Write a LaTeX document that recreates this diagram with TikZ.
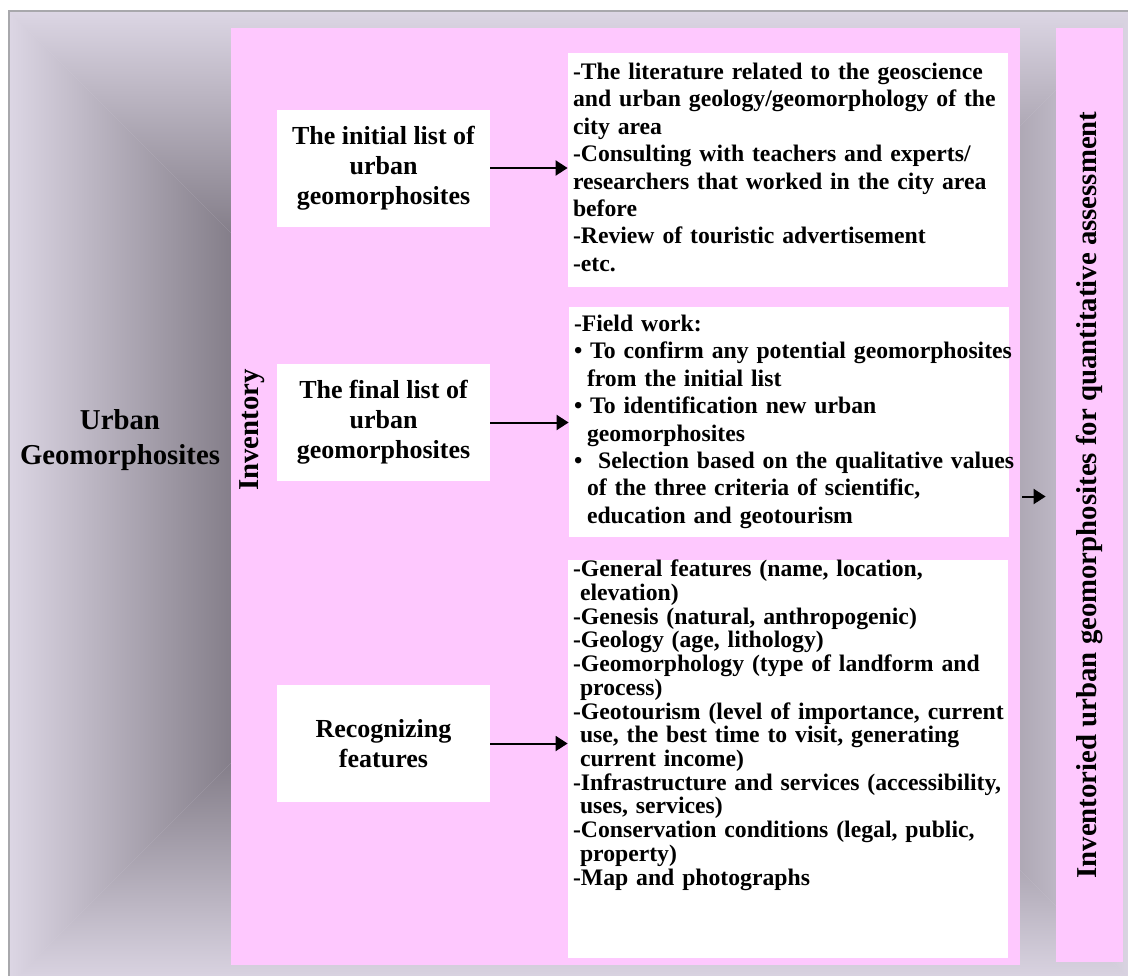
\documentclass[tikz,border=0pt]{standalone}
\usepackage{fontspec}
\setmainfont{Liberation Serif}
\usetikzlibrary{arrows.meta,positioning}

\definecolor{bglight}{RGB}{220,214,228}
\definecolor{bgdark}{RGB}{28,22,30}
\definecolor{panelpink}{RGB}{254,200,254}
\definecolor{framegray}{RGB}{168,168,172}

\begin{document}
\begin{tikzpicture}[x=0.5pt,y=-0.5pt,
    stepbox/.style={fill=white, inner sep=0pt, minimum width=106.5pt, minimum height=58.5pt,
      align=center, font=\fontsize{13}{15}\selectfont\bfseries},
    listbox/.style={fill=white, inner xsep=2.5pt, inner ysep=0pt, text width=215pt, align=left,
      font=\fontsize{11.85}{13.7}\selectfont\bfseries},
    flow/.style={-{Triangle[length=6pt,width=7.5pt]}, line width=1pt},
    biglabel/.style={align=center, font=\fontsize{14.4}{17.5}\selectfont\bfseries}]

  \useasboundingbox (0,0) rectangle (1128,975);
  \clip (0,0) rectangle (1128,975);

  % background frame, shaded from the rim to the middle
  \fill[bglight] (9,11) rectangle (1135,985);
  \shade[left color=bglight, right color=bgdark] (9,11) -- (496,498) -- (9,985) -- cycle;
  \shade[left color=bgdark, right color=bglight] (1135,11) -- (648,498) -- (1135,985) -- cycle;
  \shade[top color=bglight, bottom color=bgdark] (9,11) -- (1135,11) -- (648,498) -- (496,498) -- cycle;
  \shade[top color=bgdark, bottom color=bglight] (9,985) -- (1135,985) -- (648,498) -- (496,498) -- cycle;
  \draw[framegray, line width=1pt] (9,985) -- (9,11) -- (1135,11);

  \node[fill=panelpink, inner sep=0pt, minimum width=394.5pt, minimum height=468.5pt] (panel) at (625.5,496.5) {};
  % rotated: its north anchor is the left side
  \node[fill=panelpink, inner sep=0pt, rotate=90, minimum width=467pt, minimum height=33.5pt,
    font=\fontsize{14.4}{17}\selectfont\bfseries] (result) at (1089.5,495)
    {Inventoried urban geomorphosites for quantitative assessment};

  \node[biglabel] (urban) at (120,440) {Urban\\Geomorphosites};
  \node[biglabel, rotate=90] (inventory) at (252,430) {Inventory};

  \node[stepbox] (initial) at (383.5,168) {The initial list of\\urban\\geomorphosites};
  \node[stepbox] (final) at (383.5,422.5) {The final list of\\urban\\geomorphosites};
  \node[stepbox] (recog) at (383.5,743.5) {Recognizing\\features};

  \node[listbox, minimum height=117pt] (litlist) at (788,170) {%
    \begin{tabular}{@{}l@{}}
      -The literature related to the geoscience\\
      and urban geology/geomorphology of the\\
      city area\\
      -Consulting with teachers and experts/\\
      researchers that worked in the city area\\
      before\\
      -Review of touristic advertisement\\
      -etc.
    \end{tabular}};

  \node[listbox, minimum height=115pt] (fieldlist) at (789,422) {%
    \begin{tabular}{@{}l@{}}
      -Field work:\\
      \textbullet{} To confirm any potential geomorphosites\\
      \hspace*{6.5pt}from the initial list\\
      \textbullet{} To identification new urban\\
      \hspace*{6.5pt}geomorphosites\\
      \textbullet\ \ Selection based on the qualitative values\\
      \hspace*{6.5pt}of the three criteria of scientific,\\
      \hspace*{6.5pt}education and geotourism
    \end{tabular}};

  \node[listbox, minimum height=199pt, font=\fontsize{11.85}{11.85}\selectfont\bfseries] (featlist) at (788,759) {%
    \begin{tabular}{@{}l@{}}
      -General features (name, location,\\
      \hspace*{3.5pt}elevation)\\
      -Genesis (natural, anthropogenic)\\
      -Geology (age, lithology)\\
      -Geomorphology (type of landform and\\
      \hspace*{3.5pt}process)\\
      -Geotourism (level of importance, current\\
      \hspace*{3.5pt}use, the best time to visit, generating\\
      \hspace*{3.5pt}current income)\\
      -Infrastructure and services (accessibility,\\
      \hspace*{3.5pt}uses, services)\\
      -Conservation conditions (legal, public,\\
      \hspace*{3.5pt}property)\\
      -Map and photographs\\[33pt]
    \end{tabular}};

  \draw[flow] (initial.east) -- (initial.east -| litlist.west);
  \draw[flow] (final.east) -- (final.east -| fieldlist.west);
  \draw[flow] (recog.east) -- (recog.east -| featlist.west);
  \draw[flow, shorten <=1pt, shorten >=5pt] (panel.east) -- (panel.east -| result.north);
\end{tikzpicture}
\end{document}
